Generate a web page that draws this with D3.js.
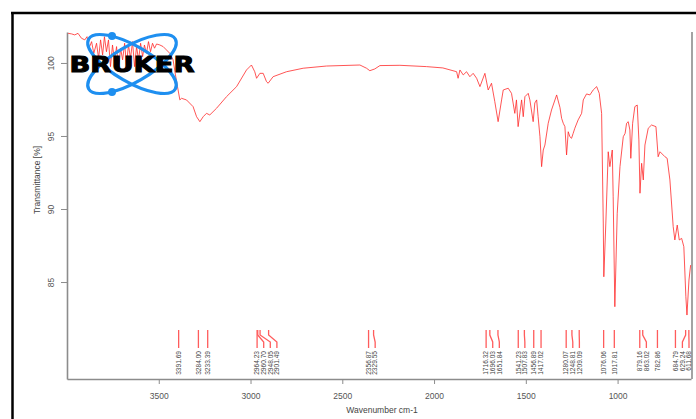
<!DOCTYPE html>
<html>
<head>
<meta charset="utf-8">
<script src="https://cdn.jsdelivr.net/npm/d3@7"></script>
<style>
  html, body { margin: 0; padding: 0; background: #fff; }
  svg { display: block; font-family: "Liberation Sans", Arial, sans-serif; }
</style>
</head>
<body>
<svg id="chart" width="696" height="419"></svg>
<script>
// spectrum (wavenumber cm-1, transmittance %)
const wavenumbers = [
  3994, 3975, 3958, 3940, 3921, 3903, 3891, 3880, 3866, 3854, 3839, 3828, 3817, 3806,
  3796, 3785, 3774, 3763, 3752, 3741, 3730, 3719, 3708, 3697, 3686, 3676, 3665, 3654,
  3643, 3632, 3621, 3610, 3599, 3588, 3578, 3567, 3556, 3545, 3534, 3523, 3512, 3494,
  3476, 3458, 3440, 3422, 3409, 3398, 3385, 3376, 3349, 3313, 3294, 3276, 3258, 3240,
  3222, 3185, 3131, 3076, 3022, 2995, 2977, 2967, 2949, 2931, 2913, 2904, 2877, 2804,
  2713, 2586, 2404, 2368, 2350, 2323, 2295, 2186, 2041, 1952, 1877, 1869, 1859, 1841,
  1823, 1805, 1787, 1768, 1750, 1723, 1705, 1687, 1669, 1651, 1632, 1623, 1596, 1578,
  1560, 1551, 1542, 1523, 1514, 1505, 1487, 1478, 1460, 1451, 1441, 1433, 1423, 1414,
  1405, 1396, 1378, 1360, 1332, 1314, 1305, 1296, 1287, 1278, 1269, 1260, 1251, 1242,
  1233, 1215, 1196, 1187, 1169, 1151, 1133, 1114, 1100, 1087, 1078, 1075, 1064, 1051,
  1042, 1029, 1024, 1015, 1002, 987, 969, 959, 951, 942, 933, 928, 918, 906,
  893, 884, 878, 869, 860, 851, 833, 815, 791, 779, 769, 742, 730, 715,
  697, 688, 675, 664, 651, 639, 628, 622, 611, 602
];
const transmittance = [
  102.03, 101.99, 101.92, 102.03, 101.69, 101.58, 101.80, 101.01, 101.46, 100.66, 101.35, 100.32, 101.58, 100.55,
  101.80, 100.77, 101.58, 99.75, 101.23, 100.09, 101.12, 99.52, 101.01, 100.21, 101.35, 99.86, 101.23, 100.32,
  101.46, 99.75, 101.12, 100.21, 101.35, 100.43, 101.23, 100.66, 101.46, 100.77, 101.35, 101.01, 101.30, 101.23,
  101.12, 100.89, 100.66, 100.21, 99.18, 98.38, 97.47, 97.58, 97.47, 97.01, 96.32, 95.98, 96.32, 96.55,
  96.44, 96.90, 97.69, 98.38, 99.52, 99.86, 99.40, 98.95, 99.29, 99.29, 98.72, 98.61, 99.06, 99.40,
  99.64, 99.79, 99.86, 99.64, 99.47, 99.59, 99.82, 99.84, 99.75, 99.66, 99.40, 98.95, 99.52, 99.18,
  99.40, 99.06, 99.29, 98.95, 98.38, 99.29, 98.15, 98.61, 97.35, 95.98, 97.47, 98.15, 98.27, 97.92,
  96.55, 97.47, 95.64, 97.47, 96.32, 97.69, 97.92, 97.47, 95.98, 97.26, 97.47, 96.32, 94.95, 92.90,
  94.04, 94.38, 95.87, 96.78, 97.81, 96.95, 96.21, 95.87, 95.64, 93.70, 95.29, 94.95, 94.84, 95.18,
  95.53, 96.10, 96.55, 97.47, 97.88, 97.81, 98.15, 98.38, 97.92, 96.55, 89.04, 85.36, 89.04, 93.92,
  92.90, 94.04, 90.84, 83.31, 89.71, 92.90, 94.95, 95.18, 95.87, 95.98, 95.41, 93.47, 95.87, 97.01,
  97.12, 94.73, 91.08, 93.13, 91.99, 94.38, 95.53, 95.75, 95.64, 93.58, 93.92, 93.58, 93.47, 91.99,
  88.79, 87.88, 88.90, 87.88, 87.99, 87.42, 83.99, 82.74, 85.14, 86.16
];

// peak picks printed along the bottom
const peakLabels = [
  '3391.69', '3284.00', '3233.39', '2964.23', '2960.70', '2948.05', '2901.49',
  '2356.87', '2329.55', '1716.32', '1696.03', '1651.84', '1541.23', '1507.83',
  '1456.89', '1417.02', '1280.07', '1248.81', '1209.09', '1076.06', '1017.81',
  '879.16', '863.02', '782.86', '684.79', '629.24', '611.68'
];

const xTicks = [3500, 3000, 2500, 2000, 1500, 1000];
const yTicks = [85, 90, 95, 100];

const svg = d3.select('#chart');
const M = { left: 67, right: 691, top: 32, bottom: 379 };

const x = d3.scaleLinear().domain([4000, 600]).range([M.left, M.right]);
const y = d3.scaleLinear().domain([102.12, 78.36]).range([M.top, M.bottom]);

// outer black frame (left + top edges only)
svg.append('line').attr('x1', 12.5).attr('x2', 12.5).attr('y1', 12).attr('y2', 419)
  .attr('stroke', '#000').attr('stroke-width', 2.5);
svg.append('line').attr('x1', 11).attr('x2', 696).attr('y1', 13).attr('y2', 13)
  .attr('stroke', '#000').attr('stroke-width', 2.5);

svg.append('clipPath').attr('id', 'plotclip')
  .append('rect').attr('x', M.left).attr('y', M.top)
  .attr('width', M.right - M.left + 1).attr('height', M.bottom - M.top);

// axes
const AXIS = '#8c8c8c';
const xAxis = svg.append('g').attr('transform', `translate(0,${M.bottom})`)
  .call(d3.axisBottom(x).tickValues(xTicks).tickSize(5).tickSizeOuter(0).tickFormat(d3.format('d')));
const yAxis = svg.append('g').attr('transform', `translate(${M.left},0)`)
  .call(d3.axisLeft(y).tickValues(yTicks).tickSize(6).tickSizeOuter(0));

[xAxis, yAxis].forEach(ax => {
  ax.select('.domain').attr('stroke', AXIS).attr('stroke-width', 1.6);
  ax.selectAll('.tick line').attr('stroke', AXIS).attr('stroke-width', 1);
  ax.selectAll('.tick text').attr('fill', '#555').attr('font-size', '8.5px')
    .attr('font-family', '"Liberation Sans", Arial, sans-serif');
});
xAxis.selectAll('.tick text').attr('y', 14);
yAxis.selectAll('.tick text')
  .attr('x', 0).attr('y', 0).attr('dy', '0.35em').attr('text-anchor', 'middle')
  .attr('transform', 'translate(-16,0) rotate(-90)');

// right edge of the plot box
svg.append('line').attr('x1', M.right + 1).attr('x2', M.right + 1)
  .attr('y1', M.top).attr('y2', M.bottom)
  .attr('stroke', AXIS).attr('stroke-width', 1.6);

// axis titles
svg.append('text').attr('x', 382).attr('y', 413).attr('text-anchor', 'middle')
  .attr('font-size', '8.5px').attr('fill', '#444').text('Wavenumber cm-1');
svg.append('text').attr('transform', 'translate(40,180) rotate(-90)')
  .attr('text-anchor', 'middle').attr('font-size', '8.5px').attr('fill', '#444')
  .text('Transmittance [%]');

// spectrum
const spectrum = wavenumbers.map((w, i) => ({ w, t: transmittance[i] }));
const line = d3.line().x(d => x(d.w)).y(d => y(d.t));
svg.append('path').datum(spectrum)
  .attr('clip-path', 'url(#plotclip)')
  .attr('d', line)
  .attr('fill', 'none')
  .attr('stroke', '#ff2a2a').attr('stroke-opacity', 0.8)
  .attr('stroke-width', 1).attr('stroke-linejoin', 'round');

// peak pick markers with spread labels
const GAP = 6.6, XMAX = 689;
const peaks = peakLabels.map(s => ({ label: s, px: x(+s) })).sort((a, b) => a.px - b.px);
peaks.forEach((p, i) => { p.lx = i ? Math.max(p.px, peaks[i - 1].lx + GAP) : p.px; });
for (let i = peaks.length - 1; i >= 0; i--) {
  const lim = i === peaks.length - 1 ? XMAX : peaks[i + 1].lx - GAP;
  peaks[i].lx = Math.min(peaks[i].lx, lim);
}

const pk = svg.append('g');
pk.selectAll('path').data(peaks).join('path')
  .attr('d', d => `M${d.px},330V335L${d.lx},342V348`)
  .attr('fill', 'none').attr('stroke', '#ff5c5c').attr('stroke-width', 1.3);
pk.selectAll('text').data(peaks).join('text')
  .attr('transform', d => `translate(${d.lx},351) rotate(-90)`)
  .attr('text-anchor', 'end').attr('dy', '0.35em')
  .attr('font-size', '6.6px').attr('fill', '#444')
  .text(d => d.label);

// Bruker logo
const logo = svg.append('g').attr('transform', 'translate(132,64)');
[30, -30].forEach(a => {
  logo.append('ellipse').attr('rx', 50).attr('ry', 18)
    .attr('transform', `rotate(${a})`)
    .attr('fill', 'none').attr('stroke', '#1e8ff0').attr('stroke-width', 3.2);
});
logo.append('circle').attr('cx', -20).attr('cy', -28).attr('r', 4).attr('fill', '#1e8ff0');
logo.append('circle').attr('cx', -20).attr('cy', 28).attr('r', 4).attr('fill', '#1e8ff0');
logo.append('text').attr('x', 0).attr('y', 8).attr('text-anchor', 'middle')
  .attr('font-family', '"DejaVu Sans", "Liberation Sans", sans-serif')
  .attr('font-weight', 'bold').attr('font-size', '21px')
  .attr('textLength', 125).attr('lengthAdjust', 'spacingAndGlyphs')
  .attr('fill', '#000').attr('stroke', '#000').attr('stroke-width', 1)
  .text('BRUKER');
</script>
</body>
</html>
